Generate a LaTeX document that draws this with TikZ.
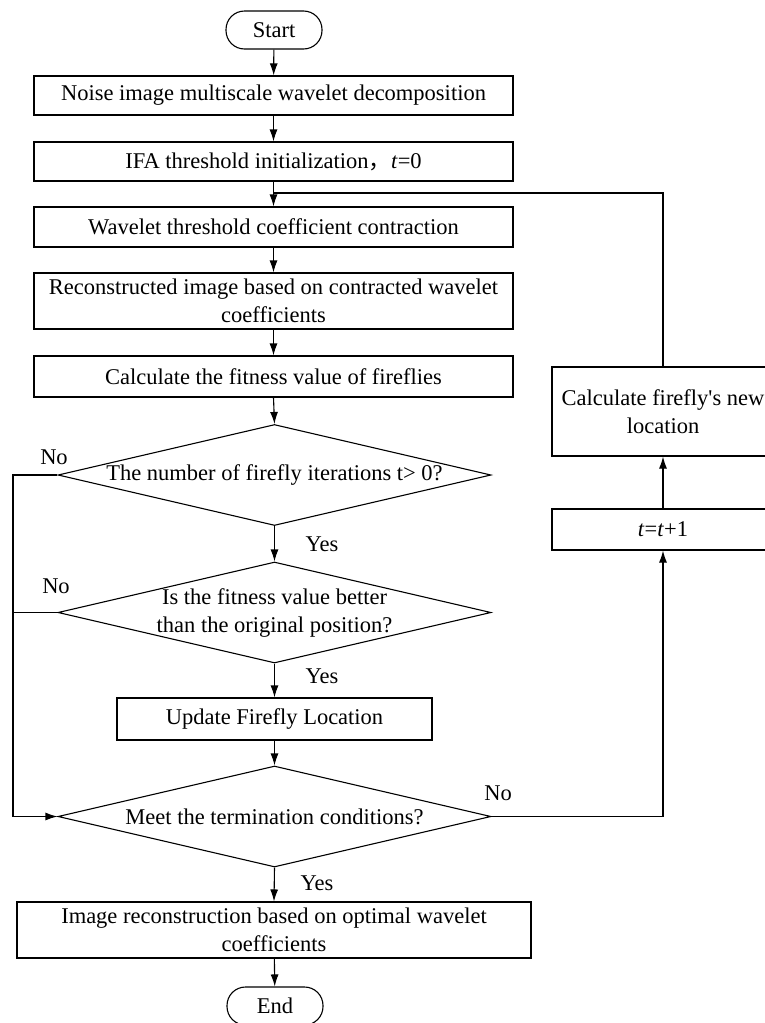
\documentclass[tikz,border=0pt]{standalone}
\usepackage{fontspec}
\setmainfont{Liberation Serif}
\newfontfamily\cjk{Noto Sans CJK SC}
\usetikzlibrary{shapes.geometric,arrows.meta}
\begin{document}
\begin{tikzpicture}[x=1pt,y=-1pt,
  every node/.style={font=\fontsize{22.5}{28}\selectfont},
  box/.style={draw,line width=1.1pt,rectangle,inner sep=0pt,align=center},
  term/.style={draw,line width=1.1pt,rectangle,rounded corners=18.5pt,inner sep=0pt,minimum width=96pt,minimum height=38pt},
  dia/.style={draw,line width=1.1pt,diamond,inner sep=0pt,minimum width=433pt,minimum height=101pt},
  lbl/.style={inner sep=0pt},
  conn/.style={line width=1.1pt},
  arr/.style={line width=1.1pt,-{Latex[length=12pt,width=8pt]}}]
\useasboundingbox (0,0) rectangle (765,1023);
\node[term] (start) at (274,30) {Start};
\node[box,minimum width=479pt,minimum height=39pt] (b1) at (273.5,95.5) {Noise image multiscale wavelet decomposition};
\node[box,minimum width=479pt,minimum height=39pt] (b2) at (273.5,161.5) {IFA threshold initialization{\cjk ，}\textit{t}=0};
\node[box,minimum width=479pt,minimum height=40pt] (b3) at (273.5,227) {Wavelet threshold coefficient contraction};
\node[box,minimum width=479pt,minimum height=56pt] (b4) at (273.5,301) {Reconstructed image based on contracted wavelet\\coefficients};
\node[box,minimum width=479pt,minimum height=41pt] (b5) at (273.5,376.5) {Calculate the fitness value of fireflies};
\node[dia] (d1) at (274.5,475) {};
\node[lbl] (d1t) at (274.5,475) {The number of firefly iterations t> 0?};
\node[dia] (d2) at (274.5,612.5) {};
\node[lbl,align=center] (d2t) at (274.5,612.5) {Is the fitness value better\\than the original position?};
\node[box,minimum width=315pt,minimum height=42pt] (b6) at (274.5,719) {Update Firefly Location};
\node[dia] (d3) at (274.5,816.5) {};
\node[lbl] (d3t) at (274.5,816.5) {Meet the termination conditions?};
\node[box,minimum width=514pt,minimum height=56pt] (b7) at (274,930) {Image reconstruction based on optimal wavelet\\coefficients};
\node[term] (end) at (275,1006) {End};
\node[box,minimum width=222pt,minimum height=89pt] (calc) at (663,411.5) {Calculate firefly\textquotesingle s new\\location};
\node[box,minimum width=222pt,minimum height=41pt] (tt) at (663,529.5) {\textit{t}=\textit{t}+1};
% labels
\node[lbl] (no1) at (54,457) {No};
\node[lbl] (no2) at (56,586) {No};
\node[lbl] (no3) at (498,793) {No};
\node[lbl] (yes1) at (322,544) {Yes};
\node[lbl] (yes2) at (322,676) {Yes};
\node[lbl] (yes3) at (317,883) {Yes};
% coordinates
\coordinate (loopc) at (274,193);
\coordinate (l1) at (13,475);
\coordinate (l2) at (13,612.5);
\coordinate (l3) at (13,816.5);
% connectors
\draw[arr] (start) -- (b1);
\draw[arr] (b1) -- (b2);
\draw[arr] (b2) -- (b3);
\draw[arr] (b3) -- (b4);
\draw[arr] (b4) -- (b5);
\draw[arr] (b5.south) -- (d1.north);
\draw[arr] (d1.south) -- (d2.north);
\draw[arr] (d2.south) -- (b6.north);
\draw[arr] (b6.south) -- (d3.north);
\draw[arr] (d3.south) -- (b7.north);
\draw[arr] (b7) -- (end);
\draw[arr] (d1.west) -- (l1) -- (l3) -- (d3.west);
\draw[conn] (d2.west) -- (l2);
\draw[arr] (d3.east) -| (tt.south);
\draw[arr] (tt) -- (calc);
\draw[conn] (calc.north) |- (loopc);
\end{tikzpicture}
\end{document}
